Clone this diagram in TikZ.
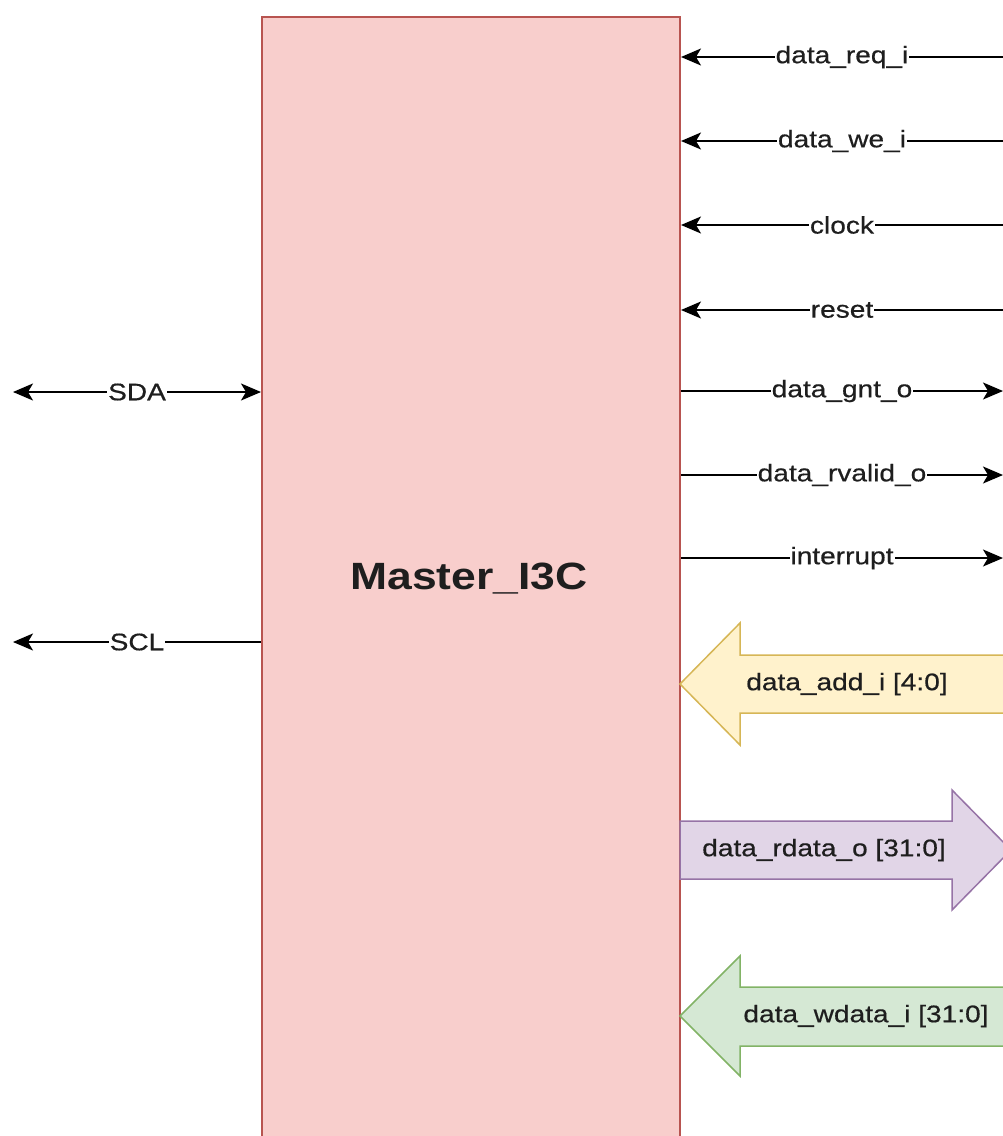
\documentclass[tikz,border=0pt]{standalone}
\usepackage{fontspec}
\setmainfont{Liberation Sans}
\newfontfamily\labfont[FakeStretch=1.17,FakeBold=0.5]{Liberation Sans}
\newfontfamily\titlefont[FakeStretch=1.17]{Liberation Sans}
\usetikzlibrary{arrows.meta}

\definecolor{blockfill}{HTML}{F8CECC}
\definecolor{blockline}{HTML}{B85450}
\definecolor{addfill}{HTML}{FFF2CC}
\definecolor{addline}{HTML}{D6B656}
\definecolor{rdfill}{HTML}{E1D5E7}
\definecolor{rdline}{HTML}{9673A6}
\definecolor{wdfill}{HTML}{D5E8D4}
\definecolor{wdline}{HTML}{82B366}
\definecolor{ink}{HTML}{1E1E1E}

\tikzset{
  headtip/.tip={Stealth[length=20pt,width=17pt,inset=5pt]},
  sig/.style={line width=1.6pt, draw=black},
  sigout/.style={sig, arrows={-headtip}},
  sigboth/.style={sig, arrows={headtip-headtip}},
  lab/.style={fill=white, inner sep=1pt, text=ink,
    font=\labfont\fontsize{24}{28}\selectfont},
  blab/.style={inner sep=0pt, text=ink,
    font=\labfont\fontsize{24}{28}\selectfont},
  bus/.style={line width=1.5pt, line join=miter}
}

\begin{document}
\begin{tikzpicture}[x=1pt,y=-1pt]
\useasboundingbox (0,0) rectangle (1003,1136);
\clip (0,0) rectangle (1003,1136);

% the controller block
\node[draw=blockline, fill=blockfill, line width=2pt, inner sep=0pt,
      minimum width=418pt, minimum height=1200pt, anchor=north west]
      (mst) at (261,16) {};
\node[font=\titlefont\fontsize{38}{44}\selectfont\bfseries, text=ink,
      anchor=base] (title) at (469,589) {Master\_I3C};

% single-bit inputs (right side)
\coordinate (reqR) at (1003,57);
\coordinate (weR)  at (1003,141);
\coordinate (clkR) at (1003,225);
\coordinate (rstR) at (1003,310);
\draw[sigout] (reqR) -- node[lab] (lreq) {data\_req\_i} (mst.east |- reqR);
\draw[sigout] (weR)  -- node[lab] (lwe)  {data\_we\_i}  (mst.east |- weR);
\draw[sigout] (clkR) -- node[lab] (lclk) {clock}       (mst.east |- clkR);
\draw[sigout] (rstR) -- node[lab] (lrst) {reset}       (mst.east |- rstR);

% single-bit outputs (right side)
\coordinate (gntR) at (1003,391);
\coordinate (rvR)  at (1003,475);
\coordinate (intR) at (1003,558);
\draw[sigout] (mst.east |- gntR) -- node[lab] (lgnt) {data\_gnt\_o}    (gntR);
\draw[sigout] (mst.east |- rvR)  -- node[lab] (lrv)  {data\_rvalid\_o} (rvR);
\draw[sigout] (mst.east |- intR) -- node[lab] (lint) {interrupt}       (intR);

% I3C bus lines (left side)
\coordinate (sdaL) at (13,392);
\coordinate (sclL) at (13,642);
\draw[sigboth] (sdaL) -- node[lab] (lsda) {SDA} (mst.west |- sdaL);
\draw[sigout] (mst.west |- sclL) -- node[lab] (lscl) {SCL} (sclL);

% address bus (input)
\draw[bus, draw=addline, fill=addfill]
  (680,684) -- (740,623) -- (740,655) -- (1030,655) -- (1030,713)
  -- (740,713) -- (740,745) -- cycle;
\node[blab] (ladd) at (847,684) {data\_add\_i [4:0]};

% read data bus (output)
\draw[bus, draw=rdline, fill=rdfill]
  (680,821) -- (952,821) -- (952,790) -- (1011,850) -- (952,910)
  -- (952,879) -- (680,879) -- cycle;
\node[blab] (lrd) at (824,850) {data\_rdata\_o [31:0]};

% write data bus (input)
\draw[bus, draw=wdline, fill=wdfill]
  (680,1016) -- (740,956) -- (740,987) -- (1040,987) -- (1040,1046)
  -- (740,1046) -- (740,1076) -- cycle;
\node[blab] (lwd) at (866,1016) {data\_wdata\_i [31:0]};
\end{tikzpicture}
\end{document}
